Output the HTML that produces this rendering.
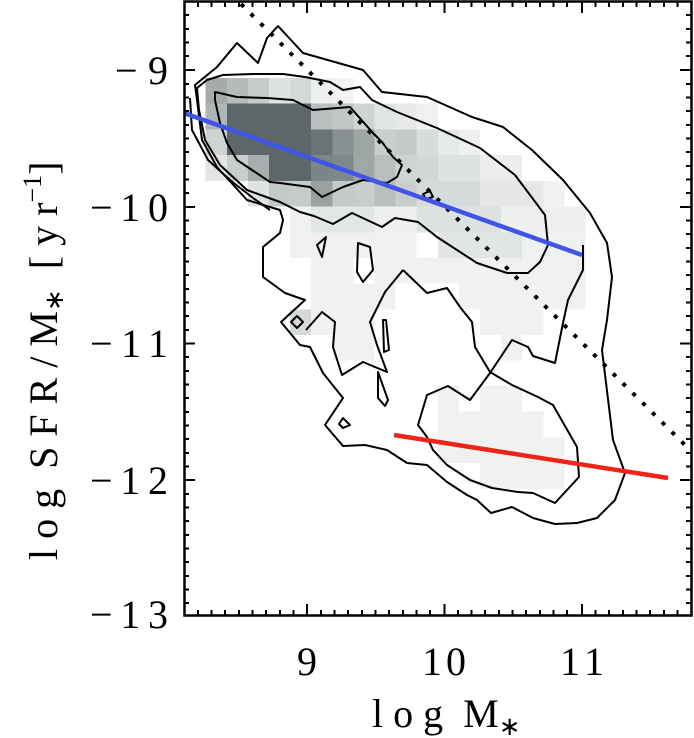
<!DOCTYPE html>
<html><head><meta charset="utf-8"><style>
html,body{margin:0;padding:0;background:#fff;}
svg{display:block;}
text{font-family:"Liberation Serif",serif;fill:#000;}
</style></head><body>
<svg width="694" height="738" viewBox="0 0 694 738" xmlns="http://www.w3.org/2000/svg">
<g id="cells" shape-rendering="crispEdges">
<rect x="205.7" y="78" width="21.1" height="25.5" fill="#a5abab"/>
<rect x="226.8" y="78" width="21.1" height="25.5" fill="#b5baba"/>
<rect x="247.9" y="78" width="21.1" height="25.5" fill="#c7cbcb"/>
<rect x="269" y="78" width="21.1" height="25.5" fill="#e0e3e3"/>
<rect x="290.1" y="78" width="21.1" height="25.5" fill="#d5d9d9"/>
<rect x="311.2" y="78" width="21.1" height="25.5" fill="#eef0f0"/>
<rect x="332.3" y="78" width="21.1" height="25.5" fill="#f2f3f3"/>
<rect x="205.7" y="103.5" width="21.1" height="26" fill="#b0b5b5"/>
<rect x="226.8" y="103.5" width="84.4" height="26" fill="#5d6668"/>
<rect x="311.2" y="103.5" width="21.1" height="26" fill="#b9bebe"/>
<rect x="332.3" y="103.5" width="21.1" height="26" fill="#c0c5c5"/>
<rect x="353.4" y="103.5" width="21.1" height="26" fill="#d0d4d4"/>
<rect x="374.5" y="103.5" width="21.1" height="26" fill="#e2e5e5"/>
<rect x="395.6" y="103.5" width="21.1" height="26" fill="#e8eaea"/>
<rect x="416.7" y="103.5" width="21.1" height="26" fill="#f0f1f1"/>
<rect x="205.7" y="129.5" width="21.1" height="25.7" fill="#cfd3d3"/>
<rect x="226.8" y="129.5" width="84.4" height="25.7" fill="#5d6668"/>
<rect x="311.2" y="129.5" width="21.1" height="25.7" fill="#6a7476"/>
<rect x="332.3" y="129.5" width="21.1" height="25.7" fill="#889091"/>
<rect x="353.4" y="129.5" width="21.1" height="25.7" fill="#9fa6a6"/>
<rect x="374.5" y="129.5" width="21.1" height="25.7" fill="#c9cece"/>
<rect x="395.6" y="129.5" width="21.1" height="25.7" fill="#c4c9c9"/>
<rect x="416.7" y="129.5" width="21.1" height="25.7" fill="#d8dcdc"/>
<rect x="437.8" y="129.5" width="21.1" height="25.7" fill="#e6e9e9"/>
<rect x="458.9" y="129.5" width="21.1" height="25.7" fill="#eef0f0"/>
<rect x="205.7" y="155.2" width="21.1" height="25.7" fill="#e4e6e6"/>
<rect x="226.8" y="155.2" width="21.1" height="25.7" fill="#c9cdcd"/>
<rect x="247.9" y="155.2" width="21.1" height="25.7" fill="#a8aeae"/>
<rect x="269" y="155.2" width="42.2" height="25.7" fill="#5d6668"/>
<rect x="311.2" y="155.2" width="21.1" height="25.7" fill="#7c8587"/>
<rect x="332.3" y="155.2" width="21.1" height="25.7" fill="#7f8889"/>
<rect x="353.4" y="155.2" width="21.1" height="25.7" fill="#a0a7a7"/>
<rect x="374.5" y="155.2" width="21.1" height="25.7" fill="#b9bebe"/>
<rect x="395.6" y="155.2" width="21.1" height="25.7" fill="#cfd3d3"/>
<rect x="416.7" y="155.2" width="21.1" height="25.7" fill="#d3d7d7"/>
<rect x="437.8" y="155.2" width="42.2" height="25.7" fill="#dfe2e2"/>
<rect x="480" y="155.2" width="42.2" height="25.7" fill="#eceeee"/>
<rect x="247.9" y="180.9" width="21.1" height="25.7" fill="#e0e3e3"/>
<rect x="269" y="180.9" width="21.1" height="25.7" fill="#c3c8c8"/>
<rect x="290.1" y="180.9" width="21.1" height="25.7" fill="#c5caca"/>
<rect x="311.2" y="180.9" width="21.1" height="25.7" fill="#9aa1a1"/>
<rect x="332.3" y="180.9" width="21.1" height="25.7" fill="#c4c9c9"/>
<rect x="353.4" y="180.9" width="21.1" height="25.7" fill="#c7cccc"/>
<rect x="374.5" y="180.9" width="21.1" height="25.7" fill="#b9bebe"/>
<rect x="395.6" y="180.9" width="21.1" height="25.7" fill="#c9cdcd"/>
<rect x="416.7" y="180.9" width="63.3" height="25.7" fill="#d6dada"/>
<rect x="480" y="180.9" width="63.3" height="25.7" fill="#e6e8e8"/>
<rect x="543.3" y="180.9" width="21.1" height="25.7" fill="#f0f2f2"/>
<rect x="290.1" y="206.6" width="21.1" height="25.7" fill="#f0f2f2"/>
<rect x="311.2" y="206.6" width="63.3" height="25.7" fill="#e3e6e6"/>
<rect x="374.5" y="206.6" width="42.2" height="25.7" fill="#eef0f0"/>
<rect x="416.7" y="206.6" width="84.4" height="25.7" fill="#dfe2e2"/>
<rect x="501.1" y="206.6" width="84.4" height="25.7" fill="#eef0f0"/>
<rect x="290.1" y="232.3" width="126.6" height="25.7" fill="#f0f2f2"/>
<rect x="437.8" y="232.3" width="84.4" height="25.7" fill="#e2e5e5"/>
<rect x="522.2" y="232.3" width="63.3" height="25.7" fill="#f0f2f2"/>
<rect x="311.2" y="258" width="42.2" height="25.7" fill="#f0f2f2"/>
<rect x="374.5" y="258" width="211" height="25.7" fill="#f0f2f2"/>
<rect x="311.2" y="283.7" width="84.4" height="25.7" fill="#f0f2f2"/>
<rect x="458.9" y="283.7" width="126.6" height="25.7" fill="#f0f2f2"/>
<rect x="290.1" y="309.4" width="21.1" height="25.7" fill="#d5d9d9"/>
<rect x="311.2" y="309.4" width="63.3" height="25.7" fill="#f0f2f2"/>
<rect x="480" y="309.4" width="63.3" height="25.7" fill="#f0f2f2"/>
<rect x="332.3" y="335" width="42.2" height="25.7" fill="#f0f2f2"/>
<rect x="501.1" y="335" width="21.1" height="25.7" fill="#f0f2f2"/>
<rect x="437.8" y="386" width="21.1" height="25.7" fill="#f0f2f2"/>
<rect x="480" y="386" width="42.2" height="25.7" fill="#f0f2f2"/>
<rect x="437.8" y="411.7" width="105.5" height="25.7" fill="#f0f2f2"/>
<rect x="437.8" y="437.4" width="126.6" height="25.7" fill="#f0f2f2"/>
<rect x="480" y="463.1" width="84.4" height="25.7" fill="#f0f2f2"/>
</g>

<g fill="none" stroke="#000" stroke-width="2" stroke-linejoin="round">
<path d="M195,85 L217,67 L237,43 L258,63 L267,38 L278,26 L303,53 L363,70 L382,92 L427,97 L472,117 L503,127 L532,150 L563,180 L590,213 L607,243 L612,277 L607,320 L602,350 L613,440 L625,473 L615,500 L597,518 L577,523 L555,524 L533,518 L512,507 L491,513 L477,500 L467,495 L447,482 L427,465 L407,463 L387,450 L365,445 L343,446 L325,425 L343,398 L323,373 L310,347 L300,345 L281,322 L305,300 L285,293 L263,277 L263,247 L280,233 L283,220 L280,210 L247,200 L217,167 L202,140 L197,100 Z"/>
<path d="M197,88 L207,80 L223,75 L253,74 L283,74 L305,77 L330,82 L343,90 L360,87 L372,100 L397,112 L437,128 L480,148 L515,175 L545,215 L548,245 L540,262 L528,273 L507,273 L477,263 L437,237 L418,222 L395,218 L382,227 L352,213 L333,224 L314,216 L300,212 L280,202 L247,190 L220,165 L205,140 L199,110 Z"/>
<path d="M190,98 L192,130 L208,160 L230,180 L253,198 L270,210"/>
<path d="M215,92 L237,97 L267,98 L293,100 L313,110 L350,107 L373,133 L382,142 L393,157 L402,165 L397,177 L387,183 L363,180 L343,187 L322,197 L310,187 L280,183 L270,182 L237,160 L227,143 L220,123 L215,100 Z"/>
<path d="M317,245 L326,237 L322,257 Z"/>
<path d="M358,243 L370,247 L373,270 L363,282 L357,272 Z"/>
<path d="M423,194 L430,191 L433,197 L426,199 Z"/>
<path d="M297,316 L303,322 L297,328 L291,322 Z"/>
<path d="M383,320 L386,320 L389,350 L384,352 Z"/>
<path d="M378,372 L388,400 L385,406 L378,398 Z"/>
<path d="M343,418 L350,425 L343,428 L339,424 Z"/>
<path d="M403,270 L427,293 L447,288 L460,307 L472,322 L475,347 L490,372 L512,385 L538,397 L553,405 L577,447 L579,477 L555,503 L533,493 L518,492 L492,488 L470,480 L447,465 L433,450 L427,437 L418,425 L427,395 L448,386 L470,400 L490,373 L512,340 L528,347 L533,356 L555,363 L563,323 L568,300 L583,270 L583,245"/>
<path d="M403,270 L385,292 L370,322 L377,345 L387,372 L363,362 L342,375 L333,347 L335,322 L322,312 L306,330"/>
</g>

<line x1="241" y1="4" x2="690" y2="450" stroke="#000" stroke-width="4" stroke-dasharray="4 9.8"/>
<line x1="184" y1="113" x2="582" y2="255" stroke="#3f55e8" stroke-width="4.5"/>
<line x1="394" y1="435" x2="668" y2="478" stroke="#ee2418" stroke-width="4.5"/>

<rect x="184.5" y="1.5" width="507" height="614" fill="none" stroke="#000" stroke-width="2.5"/>
<g stroke="#000" stroke-width="2" id="ticks">
<path d="M307,615 v-11 M444.5,615 v-11 M582,615 v-11 M307,2 v11 M444.5,2 v11 M582,2 v11"/>
<path d="M198,615v-5M211.5,615v-5M225,615v-5M239,615v-5M252.5,615v-5M266,615v-5M280,615v-5M293.5,615v-5M321,615v-5M334.5,615v-5M348,615v-5M362,615v-5M375.5,615v-5M389,615v-5M403,615v-5M416.5,615v-5M430,615v-5M458,615v-5M471.5,615v-5M485,615v-5M499,615v-5M512.5,615v-5M526,615v-5M540,615v-5M553.5,615v-5M567,615v-5M595.5,615v-5M609,615v-5M623,615v-5M636.5,615v-5M650,615v-5M664,615v-5M677.5,615v-5"/>
<path d="M198,2v5M211.5,2v5M225,2v5M239,2v5M252.5,2v5M266,2v5M280,2v5M293.5,2v5M321,2v5M334.5,2v5M348,2v5M362,2v5M375.5,2v5M389,2v5M403,2v5M416.5,2v5M430,2v5M458,2v5M471.5,2v5M485,2v5M499,2v5M512.5,2v5M526,2v5M540,2v5M553.5,2v5M567,2v5M595.5,2v5M609,2v5M623,2v5M636.5,2v5M650,2v5M664,2v5M677.5,2v5"/>
<path d="M184,70h11M184,207h11M184,343.5h11M184,480h11M691,70h-11M691,207h-11M691,343.5h-11M691,480h-11"/>
<path d="M184,15h5M184,29h5M184,42.5h5M184,56h5M184,84h5M184,97.5h5M184,111h5M184,125h5M184,138.5h5M184,152h5M184,166h5M184,179.5h5M184,193h5M184,220.5h5M184,234h5M184,248h5M184,261.5h5M184,275h5M184,289h5M184,302.5h5M184,316h5M184,330h5M184,357h5M184,371h5M184,384.5h5M184,398h5M184,412h5M184,425.5h5M184,439h5M184,453h5M184,466.5h5M184,494h5M184,507.5h5M184,521h5M184,535h5M184,548.5h5M184,562h5M184,576h5M184,589.5h5M184,603h5"/>
<path d="M691,15h-5M691,29h-5M691,42.5h-5M691,56h-5M691,84h-5M691,97.5h-5M691,111h-5M691,125h-5M691,138.5h-5M691,152h-5M691,166h-5M691,179.5h-5M691,193h-5M691,220.5h-5M691,234h-5M691,248h-5M691,261.5h-5M691,275h-5M691,289h-5M691,302.5h-5M691,316h-5M691,330h-5M691,357h-5M691,371h-5M691,384.5h-5M691,398h-5M691,412h-5M691,425.5h-5M691,439h-5M691,453h-5M691,466.5h-5M691,494h-5M691,507.5h-5M691,521h-5M691,535h-5M691,548.5h-5M691,562h-5M691,576h-5M691,589.5h-5M691,603h-5"/>
</g>

<g font-size="40">
<text x="115" y="84" textLength="53" lengthAdjust="spacing">−9</text>
<text x="90" y="221" textLength="78" lengthAdjust="spacing">−10</text>
<text x="90" y="357" textLength="78" lengthAdjust="spacing">−11</text>
<text x="90" y="494" textLength="78" lengthAdjust="spacing">−12</text>
<text x="90" y="628" textLength="78" lengthAdjust="spacing">−13</text>
</g>
<g font-size="40" text-anchor="middle">
<text x="307" y="675">9</text>
<text x="444" y="675" textLength="44" lengthAdjust="spacing">10</text>
<text x="582" y="675" textLength="44" lengthAdjust="spacing">11</text>
</g>
<text x="372" y="727" font-size="40">l o g&#160;&#160;M<tspan font-size="26" dy="8">∗</tspan></text>
<text transform="translate(57,560) rotate(-90)" font-size="40">l o g&#160;&#160;S F R / M<tspan font-size="26" dy="6">∗</tspan><tspan dy="-6">&#160;&#160;[ y r</tspan><tspan font-size="26" dy="-16">−1</tspan><tspan dy="16">]</tspan></text>
</svg>
</body></html>
